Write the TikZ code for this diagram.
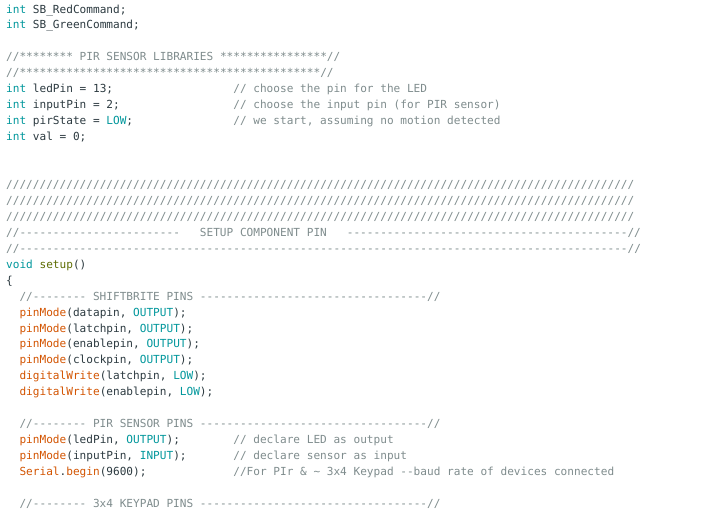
\documentclass[tikz,border=0pt]{standalone}
\usepackage{fontspec}
\setmonofont{DejaVu Sans Mono}
\usepackage{xcolor}
\definecolor{kwteal}{HTML}{00979C}
\definecolor{fnorange}{HTML}{D35400}
\definecolor{fnolive}{HTML}{5E6D03}
\definecolor{cmtgray}{HTML}{7F8C8D}
\definecolor{codetxt}{HTML}{2C3A40}
\newcommand{\kw}[1]{\textcolor{kwteal}{#1}}
\newcommand{\fn}[1]{\textcolor{fnorange}{#1}}
\newcommand{\cm}[1]{\textcolor{cmtgray}{#1}}
\newcommand{\dashes}[1]{\foreach \i in {1,...,#1}{-}}
\newcommand{\slashes}[1]{\foreach \i in {1,...,#1}{/}}
\newcommand{\stars}[1]{\foreach \i in {1,...,#1}{*}}
\tikzset{
  code/.style={anchor=base west,inner sep=0pt,font=\ttfamily\fontsize{11.1}{13}\selectfont,text=codetxt},
}
% line k at column c
\newcommand{\codeline}[4][0]{\node[code] (#2c#1) at ({6+#1*6.68},{-(13+#2*15.95)}) {#3#4};}
\begin{document}
\begin{tikzpicture}[x=1pt,y=1pt]
  \useasboundingbox[fill=white] (0,0) rectangle (710,-515);
  % globals
  \codeline{0}{}{\kw{int} SB\_RedCommand;}
  \codeline{1}{}{\kw{int} SB\_GreenCommand;}
  \codeline{3}{}{\cm{//\stars{8} PIR SENSOR LIBRARIES \stars{16}//}}
  \codeline{4}{}{\cm{//\stars{45}//}}
  \codeline{5}{}{\kw{int} ledPin = 13;}
  \codeline{6}{}{\kw{int} inputPin = 2;}
  \codeline{7}{}{\kw{int} pirState = \kw{LOW};}
  \codeline{8}{}{\kw{int} val = 0;}
  \codeline[34]{5}{}{\cm{// choose the pin for the LED}}
  \codeline[34]{6}{}{\cm{// choose the input pin (for PIR sensor)}}
  \codeline[34]{7}{}{\cm{// we start, assuming no motion detected}}
  % banner
  \codeline{11}{}{\cm{\slashes{94}}}
  \codeline{12}{}{\cm{\slashes{94}}}
  \codeline{13}{}{\cm{\slashes{94}}}
  \codeline{14}{}{\cm{//\dashes{24}}}
  \codeline[29]{14}{}{\cm{SETUP COMPONENT PIN}}
  \codeline[51]{14}{}{\cm{\dashes{42}//}}
  \codeline{15}{}{\cm{//\dashes{91}//}}
  % setup
  \codeline{16}{}{\kw{void} \textcolor{fnolive}{setup}()}
  \codeline{17}{}{\{}
  \codeline[2]{18}{}{\cm{//\dashes{8} SHIFTBRITE PINS \dashes{34}//}}
  \codeline[2]{19}{}{\fn{pinMode}(datapin, \kw{OUTPUT});}
  \codeline[2]{20}{}{\fn{pinMode}(latchpin, \kw{OUTPUT});}
  \codeline[2]{21}{}{\fn{pinMode}(enablepin, \kw{OUTPUT});}
  \codeline[2]{22}{}{\fn{pinMode}(clockpin, \kw{OUTPUT});}
  \codeline[2]{23}{}{\fn{digitalWrite}(latchpin, \kw{LOW});}
  \codeline[2]{24}{}{\fn{digitalWrite}(enablepin, \kw{LOW});}
  \codeline[2]{26}{}{\cm{//\dashes{8} PIR SENSOR PINS \dashes{34}//}}
  \codeline[2]{27}{}{\fn{pinMode}(ledPin, \kw{OUTPUT});}
  \codeline[2]{28}{}{\fn{pinMode}(inputPin, \kw{INPUT});}
  \codeline[2]{29}{}{\fn{Serial}.\fn{begin}(9600);}
  \codeline[34]{27}{}{\cm{// declare LED as output}}
  \codeline[34]{28}{}{\cm{// declare sensor as input}}
  \codeline[34]{29}{}{\cm{//For PIr \& \textasciitilde{} 3x4 Keypad -{}-baud rate of devices connected}}
  \codeline[2]{31}{}{\cm{//\dashes{8} 3x4 KEYPAD PINS \dashes{34}//}}
\end{tikzpicture}
\end{document}
